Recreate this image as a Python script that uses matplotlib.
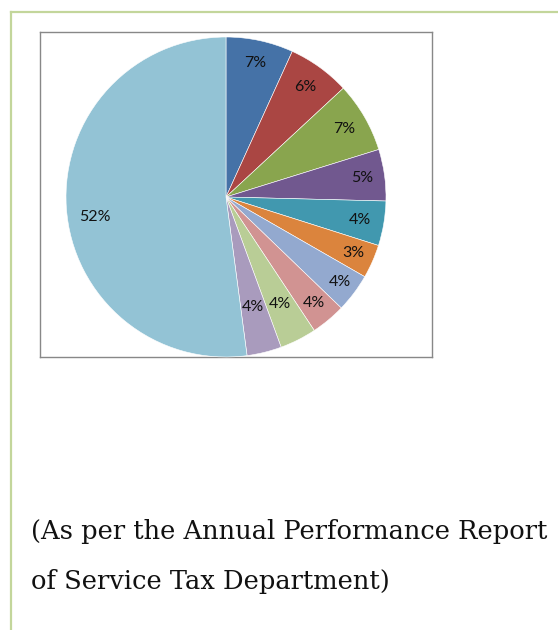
import matplotlib
matplotlib.use("Agg")
import matplotlib.pyplot as plt
from matplotlib.lines import Line2D
import numpy as np

# Data (shares, clockwise from 12 o'clock)
values = [6.8, 6.3, 7.1, 5.2, 4.5, 3.4, 3.9, 3.5, 3.7, 3.5, 52.1]
labels = ["7%", "6%", "7%", "5%", "4%", "3%", "4%", "4%", "4%", "4%", "52%"]
colors = ["#4572A7", "#AA4643", "#89A54E", "#71588F", "#4198AF", "#DB843D",
          "#93A9CF", "#D19392", "#B9CD96", "#A99BBD", "#93C3D5"]
label_dist = [0.86, 0.85, 0.85, 0.86, 0.85, 0.87, 0.89, 0.86, 0.75, 0.71, 0.83]
label_shift = [0, 0, 0, 0, 0, 0, 0, 0, 0, 0, 5]
caption = ["(As per the Annual Performance Report", "of Service Tax Department)"]

W, H = 558, 630
fig = plt.figure(figsize=(W / 100, H / 100), dpi=100)
fig.patch.set_facecolor("white")

def box(x0, y0, x1, y1):
    return [x0 / W, 1 - y1 / H, (x1 - x0) / W, (y1 - y0) / H]

# page frame lines (light green)
green = "#C3D69B"
fig.add_artist(Line2D([11 / W, 1], [1 - 12 / H, 1 - 12 / H], color=green, lw=1.6,
                      transform=fig.transFigure))
fig.add_artist(Line2D([11 / W, 11 / W], [0, 1 - 12 / H], color=green, lw=1.6,
                      transform=fig.transFigure))

# chart area box
axb = fig.add_axes(box(40, 32, 432, 357))
axb.set_xticks([]); axb.set_yticks([])
for s in axb.spines.values():
    s.set_color("#888888"); s.set_linewidth(1.0)

# pie
axp = fig.add_axes(box(66, 37, 386, 357))
wedges, texts = axp.pie(values, colors=colors, startangle=90, counterclock=False,
                        labels=labels, labeldistance=0.85,
                        wedgeprops=dict(edgecolor="white", linewidth=0.4),
                        textprops=dict(fontsize=11.5, family="Lato", color="#111111"))
for w, t, d, sh in zip(wedges, texts, label_dist, label_shift):
    ang = np.deg2rad((w.theta1 + w.theta2) / 2 + sh)
    t.set_position((d * np.cos(ang), d * np.sin(ang)))
    t.set_ha("center"); t.set_va("center")
axp.set_xlim(-1, 1); axp.set_ylim(-1, 1)
axp.set_aspect("equal")
axp.axis("off")

# caption
fig.text(31 / W, 1 - 531 / H, caption[0], fontsize=18.5, family="DejaVu Serif",
         ha="left", va="center", color="#111111")
fig.text(31 / W, 1 - 581 / H, caption[1], fontsize=18.5, family="DejaVu Serif",
         ha="left", va="center", color="#111111")

fig.savefig("out.png", dpi=100)
